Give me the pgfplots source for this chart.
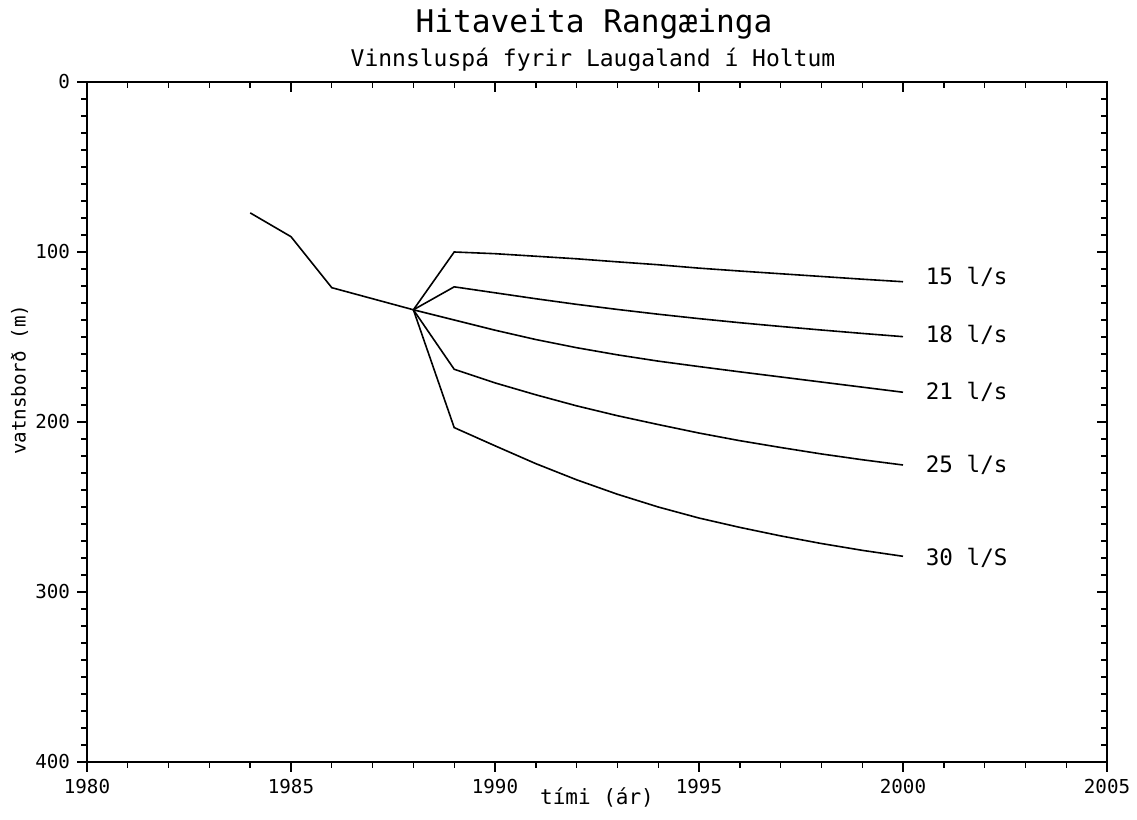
\documentclass[border=0pt]{standalone}
\usepackage{pgfplots}
\pgfplotsset{compat=1.18}
\usepackage{fontspec}
\setmainfont{DejaVu Sans Mono}
\usetikzlibrary{calc}

\begin{document}
\begin{tikzpicture}
\pgfplotsset{common/.style={
  width=510pt, height=340pt, scale only axis,
  xmin=1980, xmax=2005, ymin=0, ymax=400, y dir=reverse,
  xtick={1980,1985,...,2005}, ytick={0,100,...,400},
  minor x tick num=4, minor y tick num=9,
  major tick length=5pt, minor tick length=3pt,
  every tick/.style={black, line width=0.7pt},
  axis line style={line width=0.9pt},
  clip=false,
}}
\begin{axis}[common, name=main, xtick pos=left, ytick pos=left, tick align=outside,
  /pgf/number format/assume math mode=true, /pgf/number format/1000 sep={},
  ticklabel style={font=\fontsize{9.6}{11}\selectfont},
  xlabel={tími (ár)},
  xlabel style={font=\fontsize{10.5}{12}\selectfont, at={(axis description cs:0.5,0)}, anchor=center, yshift=-17.5pt},
  ylabel={vatnsborð (m)},
  ylabel style={font=\fontsize{9.6}{11}\selectfont, at={(axis description cs:-0.066,0.562)}, anchor=center},
]
% history
\addplot[black, line width=0.8pt, mark=none] coordinates {(1984,77) (1985,91) (1986,121) (1988,134)};
% 15 l/s
\addplot[black, line width=0.8pt, mark=none] coordinates {(1988,134) (1989,100) (1990,101) (1991,102.5) (1992,104) (1993,105.8) (1994,107.5) (1995,109.5) (1996,111.2) (1997,112.8) (1998,114.4) (1999,116) (2000,117.5)};
% 18 l/s
\addplot[black, line width=0.8pt, mark=none] coordinates {(1988,134) (1989,120.5) (1990,124) (1991,127.5) (1992,130.8) (1993,133.8) (1994,136.6) (1995,139.2) (1996,141.6) (1997,143.8) (1998,145.9) (1999,147.9) (2000,149.8)};
% 21 l/s
\addplot[black, line width=0.8pt, mark=none] coordinates {(1988,134) (1989,140) (1990,146) (1991,151.5) (1992,156.3) (1993,160.5) (1994,164.2) (1995,167.4) (1996,170.5) (1997,173.5) (1998,176.5) (1999,179.5) (2000,182.5)};
% 25 l/s
\addplot[black, line width=0.8pt, mark=none] coordinates {(1988,134) (1989,169) (1990,177) (1991,184) (1992,190.5) (1993,196.3) (1994,201.5) (1995,206.5) (1996,211) (1997,215) (1998,218.8) (1999,222.2) (2000,225.3)};
% 30 l/s
\addplot[black, line width=0.8pt, mark=none] coordinates {(1988,134) (1989,203.3) (1990,214) (1991,224.5) (1992,234) (1993,242.5) (1994,250) (1995,256.5) (1996,262) (1997,267) (1998,271.5) (1999,275.5) (2000,279)};
\begin{scope}[every node/.style={anchor=west, inner sep=0pt, font=\fontsize{11.3}{13}\selectfont}]
\node at (axis cs:2000.55,114.7) {15 l/s};
\node at (axis cs:2000.55,148.8) {18 l/s};
\node at (axis cs:2000.55,182.4) {21 l/s};
\node at (axis cs:2000.55,225.3) {25 l/s};
\node at (axis cs:2000.55,280) {30 l/S};
\end{scope}
\end{axis}
\begin{axis}[common, xtick pos=right, ytick pos=right, tick align=inside,
  xticklabels={}, yticklabels={}]
\end{axis}
\node[font=\fontsize{15.6}{18}\selectfont] at ($(main.north)+(-1.5pt,29pt)$) {Hitaveita Rangæinga};
\node[font=\fontsize{11.5}{13}\selectfont] at ($(main.north)+(-2pt,11pt)$) {Vinnsluspá fyrir Laugaland í Holtum};
\path ($(main.south west)+(-43.5pt,-29pt)$) rectangle ($(main.north east)+(15pt,41pt)$);
\end{tikzpicture}
\end{document}
